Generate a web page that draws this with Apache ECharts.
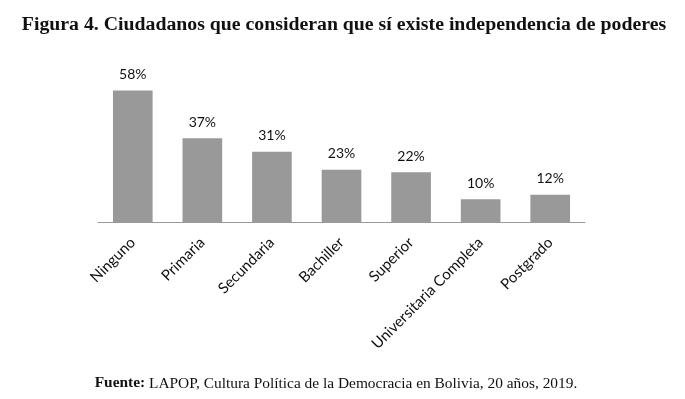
<!DOCTYPE html>
<html>
<head>
<meta charset="utf-8">
<script src="https://cdn.jsdelivr.net/npm/echarts@6/dist/echarts.min.js"></script>
<style>
  html, body { margin: 0; padding: 0; background: #fff; }
  #chart { width: 685px; height: 399px; }
</style>
</head>
<body>
<div id="chart"></div>
<script>
// niveles de educación y porcentaje que dice que sí existe independencia
const categorias = ["Ninguno", "Primaria", "Secundaria", "Bachiller", "Superior", "Universitaria Completa", "Postgrado"];
const porcentajes = [58, 37, 31, 23, 22, 10, 12];

const chart = echarts.init(document.getElementById("chart"));

const option = {
  animation: false,
  backgroundColor: "#fff",
  title: [
    {
      text: "Figura 4. Ciudadanos que consideran que sí existe independencia de poderes",
      left: 339,
      textAlign: "center",
      top: 10,
      textStyle: {
        fontFamily: "Liberation Serif",
        fontWeight: "bold",
        fontSize: 19.8,
        color: "#111",
      },
    },
    {
      text: "{b|Fuente:} LAPOP, Cultura Política de la Democracia en Bolivia, 20 años, 2019.",
      left: 331,
      textAlign: "center",
      top: 371,
      textStyle: {
        fontFamily: "Liberation Serif",
        fontSize: 15.4,
        fontWeight: "normal",
        color: "#111",
        rich: {
          b: { fontFamily: "Liberation Serif", fontSize: 15.4, fontWeight: "bold", color: "#111" },
        },
      },
    },
  ],
  grid: {
    left: 98,
    right: 100,
    top: 86,
    bottom: 177,
  },
  xAxis: {
    type: "category",
    data: categorias,
    axisLine: { lineStyle: { color: "#999", width: 1 } },
    axisTick: { show: false },
    axisLabel: {
      interval: 0,
      rotate: 45,
      margin: 18,
      fontFamily: "Lato",
      fontSize: 15,
      color: "#111",
    },
  },
  yAxis: {
    type: "value",
    min: 0,
    max: 60,
    show: false,
    splitLine: { show: false },
  },
  series: [
    {
      type: "bar",
      data: porcentajes,
      barWidth: "57%",
      itemStyle: { color: "#999999" },
      label: {
        show: true,
        position: "top",
        distance: 9,
        formatter: "{c}%",
        fontFamily: "Lato",
        fontSize: 14,
        color: "#111",
      },
    },
  ],
};

chart.setOption(option);
</script>
</body>
</html>
